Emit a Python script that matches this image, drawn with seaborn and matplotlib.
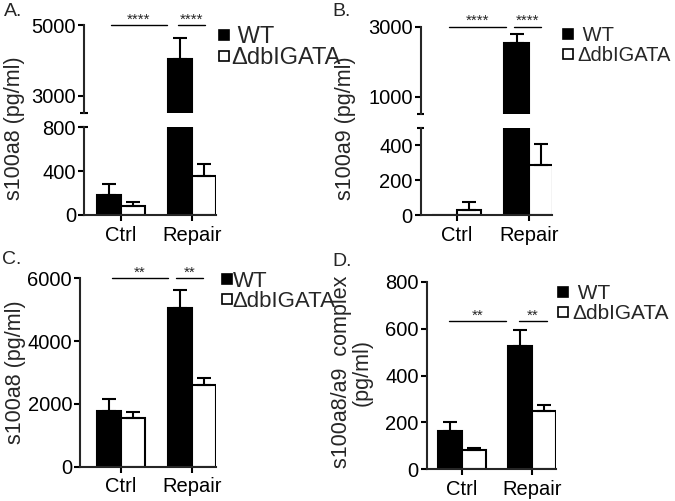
import matplotlib
matplotlib.use('Agg')
import matplotlib.pyplot as plt
from matplotlib.lines import Line2D
import pandas as pd
import seaborn as sns

W, H = 675, 501

conditions = ['Ctrl', 'Repair']
genotypes = ['WT', 'ΔdbIGATA']

# A. s100a8 (pg/ml), mean + SEM
a_wt = [180, 4035]
a_wt_sem = [102, 598]
a_ko = [84, 352]
a_ko_sem = [31, 114]

# B. s100a9 (pg/ml)
b_wt = [0, 2545]
b_wt_sem = [0, 240]
b_ko = [29, 288]
b_ko_sem = [48, 118]

# C. s100a8 (pg/ml)
c_wt = [1775, 5062]
c_wt_sem = [372, 568]
c_ko = [1541, 2602]
c_ko_sem = [211, 225]

# D. s100a8/a9 complex (pg/ml)
d_wt = [163, 526]
d_wt_sem = [37, 67]
d_ko = [82, 248]
d_ko_sem = [10, 27]

sns.set_style('ticks')
plt.rcParams['font.family'] = ['Liberation Sans', 'DejaVu Sans']
plt.rcParams['axes.linewidth'] = 1.5

TICK_FS = 14.5
LAB_FS = 15.5


def make_df(wt, wt_sem, ko, ko_sem):
    return pd.DataFrame({
        'condition': conditions * 2,
        'genotype': ['WT'] * 2 + ['ΔdbIGATA'] * 2,
        'value': wt + ko,
        'sem': wt_sem + ko_sem,
    })


def rect(x0, y_top, x1, y_bot):
    # pixel box -> figure fraction
    return [x0 / W, 1 - y_bot / H, (x1 - x0) / W, (y_bot - y_top) / H]


def draw_bars(ax, df):
    sns.barplot(data=df, x='condition', y='value', hue='genotype',
                order=conditions, hue_order=genotypes,
                palette={'WT': 'black', 'ΔdbIGATA': 'white'},
                edgecolor='black', linewidth=1.5, width=0.675, saturation=1,
                errorbar=None, legend=False, ax=ax)
    # seaborn draws WT bars first, then ΔdbIGATA, same order as df
    for patch, (_, row) in zip(ax.patches, df.iterrows()):
        if row['sem'] <= 0:
            continue
        xc = patch.get_x() + patch.get_width() / 2
        ax.errorbar(xc, row['value'], yerr=[[0], [row['sem']]], fmt='none',
                    ecolor='black', elinewidth=1.5, capsize=5.2, capthick=1.5,
                    zorder=3)
    ax.set_xlabel('')
    ax.set_ylabel('')


def style_ax(ax, xlim, ylim, yticks):
    ax.set_xlim(*xlim)
    ax.set_ylim(*ylim)
    ax.set_yticks(yticks)
    ax.set_yticklabels([str(t) for t in yticks])
    sns.despine(ax=ax)
    ax.tick_params(axis='both', direction='out', length=4.2, width=1.5,
                   labelsize=TICK_FS, pad=1.5, colors='black')
    ax.tick_params(axis='x', pad=3.5)


def break_mark(ax, yfrac, d):
    ax.plot([-d, d], [yfrac, yfrac], transform=ax.transAxes, color='black',
            lw=1.5, clip_on=False, solid_capstyle='butt')


def sig(ax, x0, x1, y, text):
    ax.plot([x0, x1], [y, y], color='black', lw=1.0, clip_on=False)
    ax.annotate(text, xy=((x0 + x1) / 2, y), xytext=(0, 1.2),
                textcoords='offset points', ha='center', va='baseline',
                fontsize=11, annotation_clip=False)


def legend(ax, x_px, y_px, labels, fs, pad, spacing):
    handles = [
        Line2D([], [], marker='s', ls='none', markersize=7.2,
               markerfacecolor='black', markeredgecolor='black', markeredgewidth=1.2),
        Line2D([], [], marker='s', ls='none', markersize=7.2,
               markerfacecolor='white', markeredgecolor='black', markeredgewidth=1.2),
    ]
    ax.legend(handles, labels, loc='upper left',
              bbox_to_anchor=(x_px / W, 1 - y_px / H), bbox_transform=fig.transFigure,
              frameon=False, borderpad=0, borderaxespad=0, handlelength=0.5,
              handletextpad=pad, labelspacing=spacing, fontsize=fs)


fig = plt.figure(figsize=(W / 100, H / 100), dpi=100)

# ---- A (broken axis) ----
df_a = make_df(a_wt, a_wt_sem, a_ko, a_ko_sem)
axA_hi = fig.add_axes(rect(84, 25.3, 215.5, 113.3))
axA_lo = fig.add_axes(rect(84, 127.3, 215.5, 215))
for ax in (axA_hi, axA_lo):
    draw_bars(ax, df_a)
style_ax(axA_hi, (-0.515, 1.33), (2500, 5000), [3000, 5000])
style_ax(axA_lo, (-0.515, 1.33), (0, 800), [0, 400, 800])
axA_hi.spines['bottom'].set_visible(False)
axA_hi.tick_params(axis='x', bottom=False, labelbottom=False)
break_mark(axA_hi, 0, 0.027)
break_mark(axA_lo, 1, 0.027)
sig(axA_hi, -0.14, 0.645, 5000, '****')
sig(axA_hi, 0.808, 1.178, 5000, '****')
legend(axA_hi, 218, 26, [' WT', 'ΔdbIGATA'], 17, 0.05, -0.03)
fig.text(15 / W, 1 - 128 / H, 's100a8 (pg/ml)', rotation=90, ha='center',
         va='center', fontsize=LAB_FS)

# ---- B (broken axis) ----
df_b = make_df(b_wt, b_wt_sem, b_ko, b_ko_sem)
axB_hi = fig.add_axes(rect(420.7, 26.7, 551.5, 114))
axB_lo = fig.add_axes(rect(420.7, 127.7, 551.5, 215.5))
for ax in (axB_hi, axB_lo):
    draw_bars(ax, df_b)
style_ax(axB_hi, (-0.5, 1.317), (500, 3000), [1000, 3000])
style_ax(axB_lo, (-0.5, 1.317), (0, 500), [0, 200, 400])
axB_hi.spines['bottom'].set_visible(False)
axB_hi.tick_params(axis='x', bottom=False, labelbottom=False)
break_mark(axB_hi, 0, 0.027)
break_mark(axB_lo, 1, 0.027)
sig(axB_hi, -0.10, 0.68, 3000, '****')
sig(axB_hi, 0.79, 1.175, 3000, '****')
legend(axB_hi, 563, 26, [' WT', 'ΔdbIGATA'], 14.5, 0.2, 0.035)
fig.text(345 / W, 1 - 128 / H, 's100a9 (pg/ml)', rotation=90, ha='center',
         va='center', fontsize=LAB_FS)

# ---- C ----
df_c = make_df(c_wt, c_wt_sem, c_ko, c_ko_sem)
axC = fig.add_axes(rect(80, 278.3, 215.5, 466.7))
draw_bars(axC, df_c)
style_ax(axC, (-0.571, 1.33), (0, 6000), [0, 2000, 4000, 6000])
sig(axC, -0.12, 0.66, 6000, '**')
sig(axC, 0.776, 1.16, 6000, '**')
legend(axC, 221.5, 271, ['WT', 'ΔdbIGATA'], 16, 0.0, -0.06)
fig.text(16 / W, 1 - 372 / H, 's100a8 (pg/ml)', rotation=90, ha='center',
         va='center', fontsize=LAB_FS)

# ---- D ----
df_d = make_df(d_wt, d_wt_sem, d_ko, d_ko_sem)
axD = fig.add_axes(rect(426.7, 281.7, 556, 469.3))
draw_bars(axD, df_d)
style_ax(axD, (-0.502, 1.339), (0, 800), [0, 200, 400, 600, 800])
sig(axD, -0.185, 0.62, 631, '**')
sig(axD, 0.81, 1.205, 631, '**')
legend(axD, 558, 284, [' WT', 'ΔdbIGATA'], 15, 0.18, 0.05)
fig.text(352 / W, 1 - 372 / H, 's100a8/a9  complex\n(pg/ml)', rotation=90,
         ha='center', va='center', fontsize=LAB_FS, linespacing=1.0,
         multialignment='center')

# panel letters
for lbl, x, y in [('A.', 4, 11.5), ('B.', 332, 12), ('C.', 2, 260), ('D.', 332, 261)]:
    fig.text(x / W, 1 - y / H, lbl, fontsize=14, ha='left', va='center')

fig.savefig('out.png', dpi=100)
